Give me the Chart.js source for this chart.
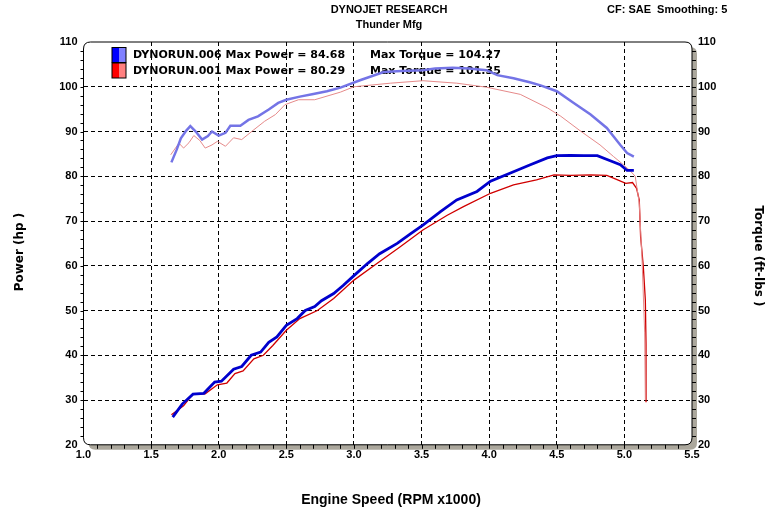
<!DOCTYPE html>
<html lang="en">
<head>
<meta charset="UTF-8">
<title>Dynojet Research - Thunder Mfg</title>
<script src="https://cdn.jsdelivr.net/npm/chart.js"></script>
<style>
    body { margin: 0; background: #fff; }
    #wrap { width: 779px; height: 517px; }
</style>
</head>
<body>
<div id="wrap"><canvas id="chart" width="779" height="517"></canvas></div>
<script>
// Run info (legend)
const runNames = ['DYNORUN.006', 'DYNORUN.001'];
const maxPower = [84.68, 80.29];
const maxTorque = [104.27, 101.35];

// DYNORUN.006 torque (ft-lbs) vs RPM x1000
const torque006Rpm = [1.65, 1.69, 1.72, 1.76, 1.79, 1.83, 1.877, 1.92, 1.95, 2.0, 2.05, 2.086, 2.16, 2.22, 2.29, 2.37, 2.44, 2.5, 2.6, 2.7, 2.8, 2.9, 3.05, 3.22, 3.35, 3.51, 3.6, 3.73, 3.85, 3.98, 4.06, 4.18, 4.3, 4.38, 4.5, 4.62, 4.75, 4.87, 4.97, 5.02, 5.07];
const torque006 = [83.1, 86, 88.5, 90.2, 91.2, 90, 88.2, 89, 90, 89.1, 89.7, 91.3, 91.3, 92.6, 93.4, 94.9, 96.4, 97.1, 97.8, 98.4, 99, 99.8, 101.5, 103.3, 103.5, 103.7, 104.1, 104.27, 104.1, 103.7, 102.6, 101.9, 101, 100.3, 99, 96.5, 93.8, 90.8, 87, 85.2, 84.4];

// DYNORUN.006 power (hp)
const power006Rpm = [1.66, 1.73, 1.81, 1.89, 1.97, 2.02, 2.11, 2.17, 2.24, 2.31, 2.37, 2.43, 2.5, 2.58, 2.64, 2.71, 2.76, 2.85, 2.92, 3.0, 3.1, 3.19, 3.32, 3.42, 3.51, 3.64, 3.76, 3.91, 4.01, 4.18, 4.3, 4.43, 4.5, 4.6, 4.7, 4.8, 4.9, 4.97, 5.02, 5.07];
const power006 = [26.2, 29.1, 31.3, 31.5, 34, 34.2, 36.9, 37.5, 40, 40.7, 42.9, 44.1, 46.7, 48.2, 50, 50.9, 52.2, 53.8, 55.6, 57.8, 60.5, 62.7, 65, 67.2, 69.1, 72.1, 74.7, 76.6, 78.9, 81, 82.5, 84.1, 84.6, 84.68, 84.6, 84.6, 83.4, 82.6, 81.3, 81.3];

// DYNORUN.001 torque (ft-lbs)
const torque001Rpm = [1.645, 1.706, 1.74, 1.78, 1.816, 1.86, 1.9, 1.95, 1.99, 2.05, 2.11, 2.17, 2.26, 2.34, 2.42, 2.49, 2.59, 2.71, 2.9, 3.0, 3.27, 3.51, 3.76, 3.98, 4.23, 4.43, 4.53, 4.68, 4.82, 4.92, 4.98, 5.04, 5.08, 5.11, 5.13, 5.15, 5.155];
const torque001 = [84.8, 87.4, 86.3, 87.5, 89.1, 88, 86.3, 87, 87.8, 86.7, 88.6, 88.2, 90.4, 92.3, 93.8, 96, 97.1, 97.1, 98.8, 100, 100.8, 101.35, 100.8, 99.9, 98.3, 95.3, 93.4, 90, 87, 84.4, 82.9, 81.3, 80, 74, 62, 45, 30];

// DYNORUN.001 power (hp)
const power001Rpm = [1.65, 1.74, 1.81, 1.9, 1.99, 2.06, 2.12, 2.18, 2.26, 2.33, 2.4, 2.5, 2.6, 2.73, 2.85, 3.0, 3.17, 3.34, 3.51, 3.69, 3.81, 4.01, 4.18, 4.35, 4.48, 4.6, 4.75, 4.87, 4.95, 5.01, 5.06, 5.09, 5.11, 5.12, 5.14, 5.155, 5.16, 5.16];
const power001 = [26.7, 28.7, 31.4, 31.4, 33.4, 33.8, 35.9, 36.5, 39.2, 40, 42.2, 45.6, 48.2, 50, 52.7, 56.8, 60.5, 64.2, 68, 71.3, 73.2, 76.2, 78.1, 79.2, 80.29, 80.2, 80.29, 80.2, 79.2, 78.4, 78.6, 77.3, 74.7, 66.5, 59.8, 52.3, 42.6, 29.5];

// axis ranges
const rpmMin = 1.0, rpmMax = 5.5, rpmStep = 0.5;
const valMin = 20, valMax = 110, valStep = 10;

function pairs(xs, ys) {
    return xs.map((x, i) => ({ x: x, y: ys[i] }));
}

function roundRect(ctx, x, y, w, h, r) {
    ctx.beginPath();
    ctx.moveTo(x + r, y);
    ctx.lineTo(x + w - r, y);
    ctx.quadraticCurveTo(x + w, y, x + w, y + r);
    ctx.lineTo(x + w, y + h - r);
    ctx.quadraticCurveTo(x + w, y + h, x + w - r, y + h);
    ctx.lineTo(x + r, y + h);
    ctx.quadraticCurveTo(x, y + h, x, y + h - r);
    ctx.lineTo(x, y + r);
    ctx.quadraticCurveTo(x, y, x + r, y);
    ctx.closePath();
}

// frame, shadow, minor ticks, titles and legend
const dynoPlugin = {
    id: 'dyno',
    beforeDraw(chart) {
        const { ctx, chartArea: a } = chart;
        ctx.save();
        ctx.fillStyle = '#fff';
        ctx.fillRect(0, 0, chart.width, chart.height);
        roundRect(ctx, a.left + 5, a.top + 5, a.width, a.height, 7);
        ctx.fillStyle = '#aba79c';
        ctx.fill();
        roundRect(ctx, a.left, a.top, a.width, a.height, 7);
        ctx.fillStyle = '#fff';
        ctx.fill();
        ctx.restore();
    },
    beforeDatasetsDraw(chart) {
        const { ctx } = chart;
        ctx.save();
        // legend
        const colors = [['#0000ff', '#8080ff'], ['#ff0000', '#ff8080']];
        ctx.font = 'bold 11px "DejaVu Sans"';
        ctx.textBaseline = 'middle';
        for (let i = 0; i < runNames.length; i++) {
            const y = 47.5 + i * 15.5;
            ctx.fillStyle = colors[i][0];
            ctx.fillRect(112, y, 7, 15);
            ctx.fillStyle = colors[i][1];
            ctx.fillRect(119, y, 7, 15);
            ctx.strokeStyle = '#000';
            ctx.lineWidth = 1;
            ctx.strokeRect(112, y, 14, 15);
            ctx.fillStyle = '#000';
            ctx.textAlign = 'left';
            ctx.fillText(runNames[i] + ' Max Power = ' + maxPower[i].toFixed(2), 133, y + 8);
            ctx.fillText('Max Torque = ' + maxTorque[i].toFixed(2), 370, y + 8);
        }
        ctx.restore();
    },
    afterDraw(chart) {
        const { ctx, chartArea: a, scales } = chart;
        ctx.save();
        roundRect(ctx, a.left, a.top, a.width, a.height, 7);
        ctx.strokeStyle = '#000';
        ctx.lineWidth = 1;
        ctx.stroke();

        // minor ticks
        ctx.beginPath();
        for (let v = valMin + 2; v < valMax; v += 2) {
            const y = Math.round(scales.y.getPixelForValue(v)) + 0.5;
            ctx.moveTo(a.left - 3, y); ctx.lineTo(a.left, y);
            ctx.moveTo(a.right, y); ctx.lineTo(a.right + 4, y);
        }
        for (let k = 1; k < 45; k++) {
            const x = Math.round(scales.x.getPixelForValue(rpmMin + k * 0.1)) + 0.5;
            ctx.moveTo(x, a.bottom); ctx.lineTo(x, a.bottom + 4);
        }
        ctx.stroke();

        // titles
        ctx.fillStyle = '#000';
        ctx.textBaseline = 'middle';
        ctx.textAlign = 'center';
        ctx.font = 'bold 11px "Liberation Sans"';
        ctx.fillText('DYNOJET RESEARCH', 389, 10);
        ctx.fillText('Thunder Mfg', 389, 25);
        ctx.textAlign = 'left';
        ctx.fillText('CF: SAE  Smoothing: 5', 607, 10);

        ctx.font = 'bold 14px "Liberation Sans"';
        ctx.textAlign = 'center';
        ctx.fillText('Engine Speed (RPM x1000)', 391, 500);

        ctx.font = 'bold 12px "DejaVu Sans"';
        ctx.save();
        ctx.translate(20, 252);
        ctx.rotate(-Math.PI / 2);
        ctx.fillText('Power (hp )', 0, 0);
        ctx.restore();
        ctx.save();
        ctx.translate(758, 256);
        ctx.rotate(Math.PI / 2);
        ctx.fillText('Torque (ft-lbs )', 0, 0);
        ctx.restore();
        ctx.restore();
    }
};

const tickFont = { family: '"Liberation Sans"', size: 11, weight: 'bold' };
const edgeHidden = (min, max) => (c) => (c.tick && (c.tick.value === min || c.tick.value === max)) ? 'rgba(0,0,0,0)' : '#000';

new Chart(document.getElementById('chart'), {
    type: 'line',
    data: {
        datasets: [
            { label: 'DYNORUN.006 Torque', data: pairs(torque006Rpm, torque006), yAxisID: 'y2', borderColor: '#7474e6', borderWidth: 2.5 },
            { label: 'DYNORUN.006 Power', data: pairs(power006Rpm, power006), yAxisID: 'y', borderColor: '#0000cd', borderWidth: 2.8 },
            { label: 'DYNORUN.001 Torque', data: pairs(torque001Rpm, torque001), yAxisID: 'y2', borderColor: '#e68a8a', borderWidth: 1 },
            { label: 'DYNORUN.001 Power', data: pairs(power001Rpm, power001), yAxisID: 'y', borderColor: '#d00000', borderWidth: 1.3 }
        ]
    },
    options: {
        responsive: false,
        animation: false,
        devicePixelRatio: 1,
        elements: { point: { radius: 0 }, line: { tension: 0, fill: false } },
        layout: { padding: { top: 42, left: 0, right: 0, bottom: 0 } },
        plugins: { legend: { display: false }, tooltip: { enabled: false } },
        scales: {
            x: {
                type: 'linear', min: rpmMin, max: rpmMax,
                afterFit: (s) => { s.height = 72.2; },
                ticks: { stepSize: rpmStep, color: '#000', font: tickFont, padding: 4, maxRotation: 0, autoSkip: false,
                    callback: (v) => v.toFixed(1) },
                grid: { drawTicks: false, color: edgeHidden(rpmMin, rpmMax), lineWidth: 1 },
                border: { display: false, dash: [4, 3] }
            },
            y: {
                position: 'left', min: valMin, max: valMax,
                afterFit: (s) => { s.width = 83.5; },
                ticks: { stepSize: valStep, color: '#000', font: tickFont, padding: 6 },
                grid: { drawTicks: false, color: edgeHidden(valMin, valMax), lineWidth: 1 },
                border: { display: false, dash: [4, 3] }
            },
            y2: {
                position: 'right', min: valMin, max: valMax,
                afterFit: (s) => { s.width = 87; },
                ticks: { stepSize: valStep, color: '#000', font: tickFont, padding: 6 },
                grid: { display: false, drawTicks: false },
                border: { display: false }
            }
        }
    },
    plugins: [dynoPlugin]
});
</script>
</body>
</html>
